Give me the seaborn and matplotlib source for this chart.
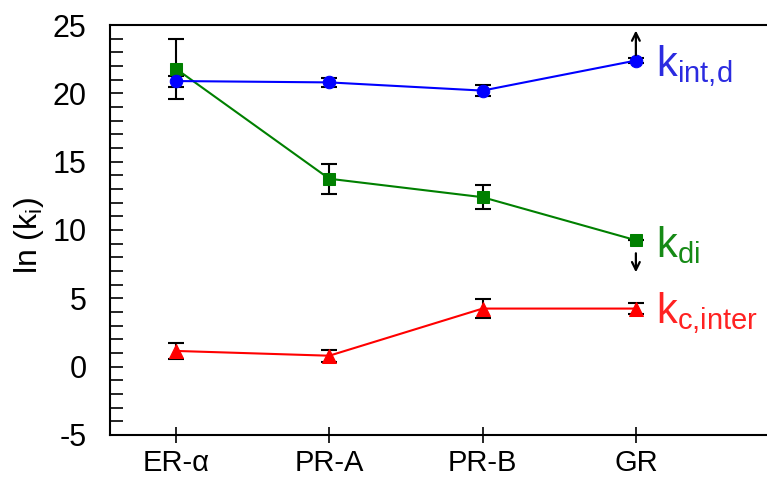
import numpy as np
import pandas as pd
import matplotlib
matplotlib.use('Agg')
import matplotlib.pyplot as plt
from matplotlib.ticker import MultipleLocator
import seaborn as sns

# values
receptors = ['ER-\u03b1', 'PR-A', 'PR-B', 'GR']
k_int_d = [20.9, 20.8, 20.2, 22.4]
k_int_d_err = [0.4, 0.3, 0.4, 0.2]
k_di = [21.8, 13.75, 12.4, 9.25]
k_di_err = [2.2, 1.1, 0.9, 0.0]
k_c_inter = [1.15, 0.8, 4.25, 4.25]
k_c_inter_err = [0.6, 0.45, 0.7, 0.4]

sns.set_theme(style='white')
plt.rcParams['font.family'] = ['Liberation Sans', 'DejaVu Sans']
plt.rcParams['mathtext.fontset'] = 'custom'
plt.rcParams['mathtext.rm'] = 'Liberation Sans'
plt.rcParams['mathtext.it'] = 'Liberation Sans'
plt.rcParams['axes.unicode_minus'] = False
plt.rcParams['text.color'] = 'black'
plt.rcParams['xtick.color'] = 'black'
plt.rcParams['ytick.color'] = 'black'
plt.rcParams['axes.labelcolor'] = 'black'

fig = plt.figure(figsize=(7.67, 4.79), dpi=100)
ax = fig.add_axes([0.1434, 0.0919, 0.9855, 0.8559])

x = np.arange(len(receptors))
series = [
    ('k_c_inter', k_c_inter, k_c_inter_err, '#ff0000', '^', 10),
    ('k_di', k_di, k_di_err, '#008000', 's', 9),
    ('k_int_d', k_int_d, k_int_d_err, '#0000ff', 'o', 9),
]

# error bars first so markers sit on top
for name, vals, errs, col, mk, ms in series:
    ax.errorbar(x, vals, yerr=errs, fmt='none', ecolor='black', elinewidth=1.5,
                capsize=6, capthick=1.5, zorder=1)

for name, vals, errs, col, mk, ms in series:
    df = pd.DataFrame({'x': x, 'y': vals})
    sns.lineplot(data=df, x='x', y='y', color=col, marker=mk, markersize=ms,
                 markeredgecolor=col, linewidth=1.5, ax=ax, zorder=2)

# limit arrows at GR
ax.annotate('', xy=(3, 24.8), xytext=(3, 22.6),
            arrowprops=dict(arrowstyle='->', color='black', lw=1.6, mutation_scale=14), zorder=3)
ax.annotate('', xy=(3, 6.7), xytext=(3, 8.5),
            arrowprops=dict(arrowstyle='->', color='black', lw=1.6, mutation_scale=14), zorder=3)

ax.text(3.13, 22.0, r'$\mathrm{k}_{\mathrm{int{,}d}}$', color='#2b2be0', fontsize=30, va='center')
ax.text(3.13, 8.9, r'$\mathrm{k}_{\mathrm{di}}$', color='#168a16', fontsize=30, va='center')
ax.text(3.13, 3.9, r'$\mathrm{k}_{\mathrm{c{,}inter}}$', color='#ff2222', fontsize=30, va='center')

ax.set_xlim(-0.43, 4.5)
ax.set_ylim(-5, 25)
ax.set_xticks(x)
ax.set_xticklabels(receptors, fontsize=21)
ax.yaxis.set_major_locator(MultipleLocator(5))
ax.yaxis.set_minor_locator(MultipleLocator(1))
ax.tick_params(axis='y', which='both', direction='in', length=9, width=1.2,
               labelsize=22, left=True, pad=17)
ax.tick_params(axis='x', which='major', direction='inout', length=12, width=1.2,
               bottom=True, pad=4)
ax.set_xlabel('')
ax.set_ylabel(r'ln (k$_{\mathrm{i}}$)', fontsize=23)
ax.yaxis.set_label_coords(-0.084, 0.488)

for s in ['left', 'top', 'bottom', 'right']:
    ax.spines[s].set_color('black')
    ax.spines[s].set_linewidth(1.5)

fig.savefig('out.png', dpi=100)
